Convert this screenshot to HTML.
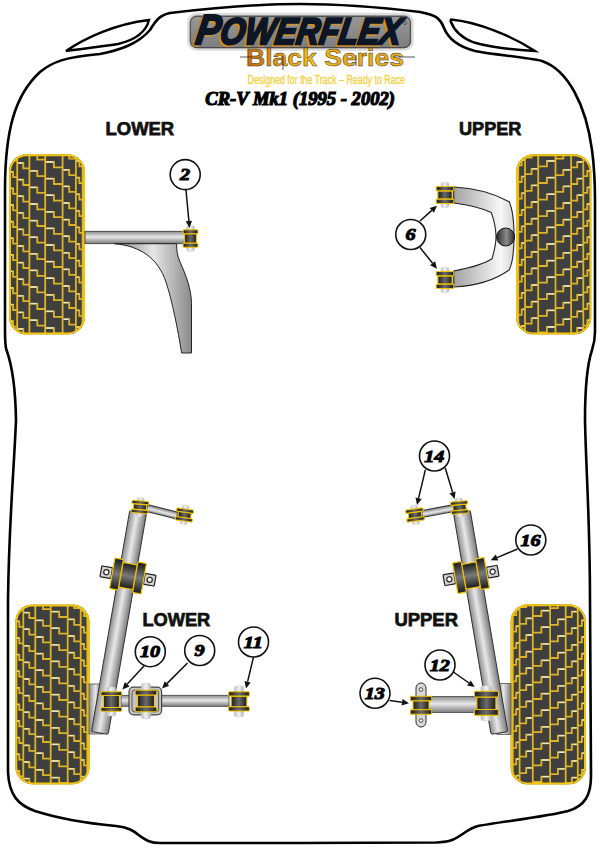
<!DOCTYPE html>
<html><head><meta charset="utf-8"><style>
html,body{margin:0;padding:0;background:#fff;width:600px;height:848px;overflow:hidden}
svg{display:block}
</style></head><body>
<svg width="600" height="848" viewBox="0 0 600 848">
<defs>
<linearGradient id="gTubeH" x1="0" y1="0" x2="0" y2="1">
<stop offset="0" stop-color="#8a8a8a"/><stop offset="0.45" stop-color="#e8e8e8"/><stop offset="1" stop-color="#7a7a7a"/>
</linearGradient>
<linearGradient id="gTubeV" x1="0" y1="0" x2="1" y2="0">
<stop offset="0" stop-color="#8a8a8a"/><stop offset="0.45" stop-color="#e8e8e8"/><stop offset="1" stop-color="#7a7a7a"/>
</linearGradient>
<linearGradient id="gArm" x1="0" y1="0" x2="1" y2="0">
<stop offset="0" stop-color="#7d7d7d"/><stop offset="0.5" stop-color="#e6e6e6"/><stop offset="1" stop-color="#8a8a8a"/>
</linearGradient>
<linearGradient id="gBush" x1="0" y1="0" x2="1" y2="0">
<stop offset="0" stop-color="#1c1c1c"/><stop offset="0.5" stop-color="#6a6a6a"/><stop offset="1" stop-color="#1c1c1c"/>
</linearGradient>
<linearGradient id="gBolt" x1="0" y1="0" x2="1" y2="0">
<stop offset="0" stop-color="#bdbdbd"/><stop offset="0.5" stop-color="#f4f4f4"/><stop offset="1" stop-color="#b0b0b0"/>
</linearGradient>
<linearGradient id="gBushV" x1="0" y1="0" x2="0" y2="1">
<stop offset="0" stop-color="#1a1a1a"/><stop offset="0.5" stop-color="#7a7a7a"/><stop offset="1" stop-color="#1a1a1a"/>
</linearGradient>
<linearGradient id="gU" x1="0" y1="0" x2="1" y2="0">
<stop offset="0" stop-color="#a2a2a2"/><stop offset="0.78" stop-color="#f7f7f7"/><stop offset="1" stop-color="#d4d4d4"/>
</linearGradient>
<linearGradient id="gBallH" x1="0" y1="0" x2="1" y2="0">
<stop offset="0" stop-color="#2a2a2a"/><stop offset="0.55" stop-color="#8a8a8a"/><stop offset="1" stop-color="#2a2a2a"/>
</linearGradient>
<radialGradient id="gBall" cx="0.5" cy="0.5" r="0.5">
<stop offset="0" stop-color="#777"/><stop offset="1" stop-color="#222"/>
</radialGradient>
</defs>
<rect width="600" height="848" fill="#fff"/>
<path d="M100,54 C120,50 138,44 150,30 C156,20 160,15 170,13 C230,6 270,4 300,4 C330,4 370,6 420,12 C436,15 440,18 444,28 C448,38 456,46 475,51 C495,55 525,57 542,61 C568,70 586,105 592,150 C594,165 595,180 595,200 L595,332 C595,340 594,344 592,350 C587,365 585,390 585,420 C586,470 590,520 590,600 L591,776 C591,795 585,806 568,811 C550,816 500,822 478,826 C470,828 466,832 458,837 C452,841 447,842 436,842.5 L300,843 L160,843 C150,843 146,840 140,836 C134,831 128,827 116,826 C95,824 60,819 35,811 C18,805 9,795 8,772 L8,600 C9,520 14,470 16,420 C15.5,390 12,365 6.5,350 C5,346 5,340 5,330 L5,190 C5,130 15,95 40,72 C52,62 65,57 100,54 Z" fill="none" stroke="#000" stroke-width="2.6"/>
<path d="M66,51 C85,38 115,24 149,20 C146,32 135,40 118,44 C100,47 80,49 66,51 Z" fill="none" stroke="#000" stroke-width="2.4"/>
<path d="M451,19.5 C478,22 512,36 535,51 C515,50 490,47 474,42.5 C462,38 454,30 451,22 C450.5,20.5 450.5,19.7 451,19.5 Z" fill="none" stroke="#000" stroke-width="2.4"/>
<clipPath id="clip1"><rect x="9" y="154.3" width="76" height="180.2" rx="17.5"/></clipPath>
<g clip-path="url(#clip1)">
<rect x="9" y="154.3" width="76" height="180.2" fill="#3f3f3f"/>
<g>
<path d="M9.0,122.0H13.1V127.4H17.2M9.0,138.6H13.1V144.0H17.2M9.0,155.2H13.1V160.6H17.2M9.0,171.8H13.1V177.2H17.2M9.0,188.4H13.1V193.8H17.2M9.0,205.0H13.1V210.4H17.2M9.0,221.6H13.1V227.0H17.2M9.0,238.2H13.1V243.6H17.2M9.0,254.8H13.1V260.2H17.2M9.0,271.4H13.1V276.8H17.2M9.0,288.0H13.1V293.4H17.2M9.0,304.6H13.1V310.0H17.2M9.0,321.2H13.1V326.6H17.2M9.0,337.8H13.1V343.2H17.2M17.2,154.3V334.5M17.2,129.8H23.3V135.2H29.4M17.2,146.4H23.3V151.8H29.4M17.2,163.0H23.3V168.4H29.4M17.2,179.6H23.3V185.0H29.4M17.2,196.2H23.3V201.6H29.4M17.2,212.8H23.3V218.2H29.4M17.2,229.4H23.3V234.8H29.4M17.2,246.0H23.3V251.4H29.4M17.2,262.6H23.3V268.0H29.4M17.2,279.2H23.3V284.6H29.4M17.2,295.8H23.3V301.2H29.4M17.2,312.4H23.3V317.8H29.4M17.2,329.0H23.3V334.4H29.4M17.2,345.6H23.3V351.0H29.4M29.4,154.3V334.5M29.4,137.6H37.3V143.0H45.2M29.4,154.2H37.3V159.6H45.2M29.4,170.8H37.3V176.2H45.2M29.4,187.4H37.3V192.8H45.2M29.4,204.0H37.3V209.4H45.2M29.4,220.6H37.3V226.0H45.2M29.4,237.2H37.3V242.6H45.2M29.4,253.8H37.3V259.2H45.2M29.4,270.4H37.3V275.8H45.2M29.4,287.0H37.3V292.4H45.2M29.4,303.6H37.3V309.0H45.2M29.4,320.2H37.3V325.6H45.2M29.4,336.8H37.3V342.2H45.2M45.2,154.3V334.5M45.2,128.8H53.9V134.2H62.6M45.2,145.4H53.9V150.8H62.6M45.2,162.0H53.9V167.4H62.6M45.2,178.6H53.9V184.0H62.6M45.2,195.2H53.9V200.6H62.6M45.2,211.8H53.9V217.2H62.6M45.2,228.4H53.9V233.8H62.6M45.2,245.0H53.9V250.4H62.6M45.2,261.6H53.9V267.0H62.6M45.2,278.2H53.9V283.6H62.6M45.2,294.8H53.9V300.2H62.6M45.2,311.4H53.9V316.8H62.6M45.2,328.0H53.9V333.4H62.6M45.2,344.6H53.9V350.0H62.6M62.6,154.3V334.5M62.6,136.6H69.2V142.0H75.9M62.6,153.2H69.2V158.6H75.9M62.6,169.8H69.2V175.2H75.9M62.6,186.4H69.2V191.8H75.9M62.6,203.0H69.2V208.4H75.9M62.6,219.6H69.2V225.0H75.9M62.6,236.2H69.2V241.6H75.9M62.6,252.8H69.2V258.2H75.9M62.6,269.4H69.2V274.8H75.9M62.6,286.0H69.2V291.4H75.9M62.6,302.6H69.2V308.0H75.9M62.6,319.2H69.2V324.6H75.9M62.6,335.8H69.2V341.2H75.9M75.9,154.3V334.5M75.9,127.8H79.3V133.2H82.6M75.9,144.4H79.3V149.8H82.6M75.9,161.0H79.3V166.4H82.6M75.9,177.6H79.3V183.0H82.6M75.9,194.2H79.3V199.6H82.6M75.9,210.8H79.3V216.2H82.6M75.9,227.4H79.3V232.8H82.6M75.9,244.0H79.3V249.4H82.6M75.9,260.6H79.3V266.0H82.6M75.9,277.2H79.3V282.6H82.6M75.9,293.8H79.3V299.2H82.6M75.9,310.4H79.3V315.8H82.6M75.9,327.0H79.3V332.4H82.6M75.9,343.6H79.3V349.0H82.6M82.6,154.3V334.5M82.6,135.6H83.8V141.0H85.0M82.6,152.2H83.8V157.6H85.0M82.6,168.8H83.8V174.2H85.0M82.6,185.4H83.8V190.8H85.0M82.6,202.0H83.8V207.4H85.0M82.6,218.6H83.8V224.0H85.0M82.6,235.2H83.8V240.6H85.0M82.6,251.8H83.8V257.2H85.0M82.6,268.4H83.8V273.8H85.0M82.6,285.0H83.8V290.4H85.0M82.6,301.6H83.8V307.0H85.0M82.6,318.2H83.8V323.6H85.0M82.6,334.8H83.8V340.2H85.0" stroke="#dcb424" stroke-width="1.8" fill="none"/>
<path d="M10.2,122.0H12.3M10.2,138.6H12.3M10.2,155.2H12.3M10.2,171.8H12.3M10.2,188.4H12.3M10.2,205.0H12.3M10.2,221.6H12.3M10.2,238.2H12.3M10.2,254.8H12.3M10.2,271.4H12.3M10.2,288.0H12.3M10.2,304.6H12.3M10.2,321.2H12.3M10.2,337.8H12.3M18.4,129.8H22.5M18.4,146.4H22.5M18.4,163.0H22.5M18.4,179.6H22.5M18.4,196.2H22.5M18.4,212.8H22.5M18.4,229.4H22.5M18.4,246.0H22.5M18.4,262.6H22.5M18.4,279.2H22.5M18.4,295.8H22.5M18.4,312.4H22.5M18.4,329.0H22.5M18.4,345.6H22.5M30.6,137.6H36.5M30.6,154.2H36.5M30.6,170.8H36.5M30.6,187.4H36.5M30.6,204.0H36.5M30.6,220.6H36.5M30.6,237.2H36.5M30.6,253.8H36.5M30.6,270.4H36.5M30.6,287.0H36.5M30.6,303.6H36.5M30.6,320.2H36.5M30.6,336.8H36.5M46.4,128.8H53.1M46.4,145.4H53.1M46.4,162.0H53.1M46.4,178.6H53.1M46.4,195.2H53.1M46.4,211.8H53.1M46.4,228.4H53.1M46.4,245.0H53.1M46.4,261.6H53.1M46.4,278.2H53.1M46.4,294.8H53.1M46.4,311.4H53.1M46.4,328.0H53.1M46.4,344.6H53.1M63.8,136.6H68.4M63.8,153.2H68.4M63.8,169.8H68.4M63.8,186.4H68.4M63.8,203.0H68.4M63.8,219.6H68.4M63.8,236.2H68.4M63.8,252.8H68.4M63.8,269.4H68.4M63.8,286.0H68.4M63.8,302.6H68.4M63.8,319.2H68.4M63.8,335.8H68.4M77.1,127.8H78.5M77.1,144.4H78.5M77.1,161.0H78.5M77.1,177.6H78.5M77.1,194.2H78.5M77.1,210.8H78.5M77.1,227.4H78.5M77.1,244.0H78.5M77.1,260.6H78.5M77.1,277.2H78.5M77.1,293.8H78.5M77.1,310.4H78.5M77.1,327.0H78.5M77.1,343.6H78.5" stroke="#e6e6de" stroke-width="1.35" fill="none"/>
</g>
</g>
<rect x="10" y="155.3" width="74" height="178.2" rx="16.5" fill="none" stroke="#f3c50a" stroke-width="2.0"/>
<clipPath id="clip2"><rect x="516" y="154.3" width="75.39999999999998" height="180.2" rx="17.5"/></clipPath>
<g clip-path="url(#clip2)">
<rect x="516" y="154.3" width="75.39999999999998" height="180.2" fill="#3f3f3f"/>
<g transform="translate(1107.4,0) scale(-1,1)">
<path d="M516.0,137.6H520.1V143.0H524.1M516.0,154.2H520.1V159.6H524.1M516.0,170.8H520.1V176.2H524.1M516.0,187.4H520.1V192.8H524.1M516.0,204.0H520.1V209.4H524.1M516.0,220.6H520.1V226.0H524.1M516.0,237.2H520.1V242.6H524.1M516.0,253.8H520.1V259.2H524.1M516.0,270.4H520.1V275.8H524.1M516.0,287.0H520.1V292.4H524.1M516.0,303.6H520.1V309.0H524.1M516.0,320.2H520.1V325.6H524.1M516.0,336.8H520.1V342.2H524.1M524.1,154.3V334.5M524.1,128.8H530.2V134.2H536.3M524.1,145.4H530.2V150.8H536.3M524.1,162.0H530.2V167.4H536.3M524.1,178.6H530.2V184.0H536.3M524.1,195.2H530.2V200.6H536.3M524.1,211.8H530.2V217.2H536.3M524.1,228.4H530.2V233.8H536.3M524.1,245.0H530.2V250.4H536.3M524.1,261.6H530.2V267.0H536.3M524.1,278.2H530.2V283.6H536.3M524.1,294.8H530.2V300.2H536.3M524.1,311.4H530.2V316.8H536.3M524.1,328.0H530.2V333.4H536.3M524.1,344.6H530.2V350.0H536.3M536.3,154.3V334.5M536.3,136.6H544.1V142.0H551.9M536.3,153.2H544.1V158.6H551.9M536.3,169.8H544.1V175.2H551.9M536.3,186.4H544.1V191.8H551.9M536.3,203.0H544.1V208.4H551.9M536.3,219.6H544.1V225.0H551.9M536.3,236.2H544.1V241.6H551.9M536.3,252.8H544.1V258.2H551.9M536.3,269.4H544.1V274.8H551.9M536.3,286.0H544.1V291.4H551.9M536.3,302.6H544.1V308.0H551.9M536.3,319.2H544.1V324.6H551.9M536.3,335.8H544.1V341.2H551.9M551.9,154.3V334.5M551.9,127.8H560.5V133.2H569.2M551.9,144.4H560.5V149.8H569.2M551.9,161.0H560.5V166.4H569.2M551.9,177.6H560.5V183.0H569.2M551.9,194.2H560.5V199.6H569.2M551.9,210.8H560.5V216.2H569.2M551.9,227.4H560.5V232.8H569.2M551.9,244.0H560.5V249.4H569.2M551.9,260.6H560.5V266.0H569.2M551.9,277.2H560.5V282.6H569.2M551.9,293.8H560.5V299.2H569.2M551.9,310.4H560.5V315.8H569.2M551.9,327.0H560.5V332.4H569.2M551.9,343.6H560.5V349.0H569.2M569.2,154.3V334.5M569.2,135.6H575.8V141.0H582.4M569.2,152.2H575.8V157.6H582.4M569.2,168.8H575.8V174.2H582.4M569.2,185.4H575.8V190.8H582.4M569.2,202.0H575.8V207.4H582.4M569.2,218.6H575.8V224.0H582.4M569.2,235.2H575.8V240.6H582.4M569.2,251.8H575.8V257.2H582.4M569.2,268.4H575.8V273.8H582.4M569.2,285.0H575.8V290.4H582.4M569.2,301.6H575.8V307.0H582.4M569.2,318.2H575.8V323.6H582.4M569.2,334.8H575.8V340.2H582.4M582.4,154.3V334.5M582.4,126.8H585.7V132.2H589.1M582.4,143.4H585.7V148.8H589.1M582.4,160.0H585.7V165.4H589.1M582.4,176.6H585.7V182.0H589.1M582.4,193.2H585.7V198.6H589.1M582.4,209.8H585.7V215.2H589.1M582.4,226.4H585.7V231.8H589.1M582.4,243.0H585.7V248.4H589.1M582.4,259.6H585.7V265.0H589.1M582.4,276.2H585.7V281.6H589.1M582.4,292.8H585.7V298.2H589.1M582.4,309.4H585.7V314.8H589.1M582.4,326.0H585.7V331.4H589.1M582.4,342.6H585.7V348.0H589.1M589.1,154.3V334.5M589.1,134.6H590.2V140.0H591.4M589.1,151.2H590.2V156.6H591.4M589.1,167.8H590.2V173.2H591.4M589.1,184.4H590.2V189.8H591.4M589.1,201.0H590.2V206.4H591.4M589.1,217.6H590.2V223.0H591.4M589.1,234.2H590.2V239.6H591.4M589.1,250.8H590.2V256.2H591.4M589.1,267.4H590.2V272.8H591.4M589.1,284.0H590.2V289.4H591.4M589.1,300.6H590.2V306.0H591.4M589.1,317.2H590.2V322.6H591.4M589.1,333.8H590.2V339.2H591.4M589.1,350.4H590.2V355.8H591.4" stroke="#dcb424" stroke-width="1.8" fill="none"/>
<path d="M517.2,137.6H519.3M517.2,154.2H519.3M517.2,170.8H519.3M517.2,187.4H519.3M517.2,204.0H519.3M517.2,220.6H519.3M517.2,237.2H519.3M517.2,253.8H519.3M517.2,270.4H519.3M517.2,287.0H519.3M517.2,303.6H519.3M517.2,320.2H519.3M517.2,336.8H519.3M525.3,128.8H529.4M525.3,145.4H529.4M525.3,162.0H529.4M525.3,178.6H529.4M525.3,195.2H529.4M525.3,211.8H529.4M525.3,228.4H529.4M525.3,245.0H529.4M525.3,261.6H529.4M525.3,278.2H529.4M525.3,294.8H529.4M525.3,311.4H529.4M525.3,328.0H529.4M525.3,344.6H529.4M537.5,136.6H543.3M537.5,153.2H543.3M537.5,169.8H543.3M537.5,186.4H543.3M537.5,203.0H543.3M537.5,219.6H543.3M537.5,236.2H543.3M537.5,252.8H543.3M537.5,269.4H543.3M537.5,286.0H543.3M537.5,302.6H543.3M537.5,319.2H543.3M537.5,335.8H543.3M553.1,127.8H559.7M553.1,144.4H559.7M553.1,161.0H559.7M553.1,177.6H559.7M553.1,194.2H559.7M553.1,210.8H559.7M553.1,227.4H559.7M553.1,244.0H559.7M553.1,260.6H559.7M553.1,277.2H559.7M553.1,293.8H559.7M553.1,310.4H559.7M553.1,327.0H559.7M553.1,343.6H559.7M570.4,135.6H575.0M570.4,152.2H575.0M570.4,168.8H575.0M570.4,185.4H575.0M570.4,202.0H575.0M570.4,218.6H575.0M570.4,235.2H575.0M570.4,251.8H575.0M570.4,268.4H575.0M570.4,285.0H575.0M570.4,301.6H575.0M570.4,318.2H575.0M570.4,334.8H575.0M583.6,126.8H584.9M583.6,143.4H584.9M583.6,160.0H584.9M583.6,176.6H584.9M583.6,193.2H584.9M583.6,209.8H584.9M583.6,226.4H584.9M583.6,243.0H584.9M583.6,259.6H584.9M583.6,276.2H584.9M583.6,292.8H584.9M583.6,309.4H584.9M583.6,326.0H584.9M583.6,342.6H584.9" stroke="#e6e6de" stroke-width="1.35" fill="none"/>
</g>
</g>
<rect x="517" y="155.3" width="73.39999999999998" height="178.2" rx="16.5" fill="none" stroke="#f3c50a" stroke-width="2.0"/>
<clipPath id="clip3"><rect x="15.3" y="604.4" width="74.3" height="180.0" rx="17.5"/></clipPath>
<g clip-path="url(#clip3)">
<rect x="15.3" y="604.4" width="74.3" height="180.0" fill="#3f3f3f"/>
<g>
<path d="M15.3,571.6H19.3V577.0H23.3M15.3,588.2H19.3V593.6H23.3M15.3,604.8H19.3V610.2H23.3M15.3,621.4H19.3V626.8H23.3M15.3,638.0H19.3V643.4H23.3M15.3,654.6H19.3V660.0H23.3M15.3,671.2H19.3V676.6H23.3M15.3,687.8H19.3V693.2H23.3M15.3,704.4H19.3V709.8H23.3M15.3,721.0H19.3V726.4H23.3M15.3,737.6H19.3V743.0H23.3M15.3,754.2H19.3V759.6H23.3M15.3,770.8H19.3V776.2H23.3M15.3,787.4H19.3V792.8H23.3M23.3,604.4V784.4M23.3,579.4H29.3V584.8H35.3M23.3,596.0H29.3V601.4H35.3M23.3,612.6H29.3V618.0H35.3M23.3,629.2H29.3V634.6H35.3M23.3,645.8H29.3V651.2H35.3M23.3,662.4H29.3V667.8H35.3M23.3,679.0H29.3V684.4H35.3M23.3,695.6H29.3V701.0H35.3M23.3,712.2H29.3V717.6H35.3M23.3,728.8H29.3V734.2H35.3M23.3,745.4H29.3V750.8H35.3M23.3,762.0H29.3V767.4H35.3M23.3,778.6H29.3V784.0H35.3M23.3,795.2H29.3V800.6H35.3M35.3,604.4V784.4M35.3,587.2H43.0V592.6H50.7M35.3,603.8H43.0V609.2H50.7M35.3,620.4H43.0V625.8H50.7M35.3,637.0H43.0V642.4H50.7M35.3,653.6H43.0V659.0H50.7M35.3,670.2H43.0V675.6H50.7M35.3,686.8H43.0V692.2H50.7M35.3,703.4H43.0V708.8H50.7M35.3,720.0H43.0V725.4H50.7M35.3,736.6H43.0V742.0H50.7M35.3,753.2H43.0V758.6H50.7M35.3,769.8H43.0V775.2H50.7M35.3,786.4H43.0V791.8H50.7M50.7,604.4V784.4M50.7,578.4H59.2V583.8H67.7M50.7,595.0H59.2V600.4H67.7M50.7,611.6H59.2V617.0H67.7M50.7,628.2H59.2V633.6H67.7M50.7,644.8H59.2V650.2H67.7M50.7,661.4H59.2V666.8H67.7M50.7,678.0H59.2V683.4H67.7M50.7,694.6H59.2V700.0H67.7M50.7,711.2H59.2V716.6H67.7M50.7,727.8H59.2V733.2H67.7M50.7,744.4H59.2V749.8H67.7M50.7,761.0H59.2V766.4H67.7M50.7,777.6H59.2V783.0H67.7M50.7,794.2H59.2V799.6H67.7M67.7,604.4V784.4M67.7,586.2H74.2V591.6H80.7M67.7,602.8H74.2V608.2H80.7M67.7,619.4H74.2V624.8H80.7M67.7,636.0H74.2V641.4H80.7M67.7,652.6H74.2V658.0H80.7M67.7,669.2H74.2V674.6H80.7M67.7,685.8H74.2V691.2H80.7M67.7,702.4H74.2V707.8H80.7M67.7,719.0H74.2V724.4H80.7M67.7,735.6H74.2V741.0H80.7M67.7,752.2H74.2V757.6H80.7M67.7,768.8H74.2V774.2H80.7M67.7,785.4H74.2V790.8H80.7M80.7,604.4V784.4M80.7,577.4H84.0V582.8H87.3M80.7,594.0H84.0V599.4H87.3M80.7,610.6H84.0V616.0H87.3M80.7,627.2H84.0V632.6H87.3M80.7,643.8H84.0V649.2H87.3M80.7,660.4H84.0V665.8H87.3M80.7,677.0H84.0V682.4H87.3M80.7,693.6H84.0V699.0H87.3M80.7,710.2H84.0V715.6H87.3M80.7,726.8H84.0V732.2H87.3M80.7,743.4H84.0V748.8H87.3M80.7,760.0H84.0V765.4H87.3M80.7,776.6H84.0V782.0H87.3M80.7,793.2H84.0V798.6H87.3M87.3,604.4V784.4M87.3,585.2H88.4V590.6H89.6M87.3,601.8H88.4V607.2H89.6M87.3,618.4H88.4V623.8H89.6M87.3,635.0H88.4V640.4H89.6M87.3,651.6H88.4V657.0H89.6M87.3,668.2H88.4V673.6H89.6M87.3,684.8H88.4V690.2H89.6M87.3,701.4H88.4V706.8H89.6M87.3,718.0H88.4V723.4H89.6M87.3,734.6H88.4V740.0H89.6M87.3,751.2H88.4V756.6H89.6M87.3,767.8H88.4V773.2H89.6M87.3,784.4H88.4V789.8H89.6" stroke="#dcb424" stroke-width="1.8" fill="none"/>
<path d="M16.5,571.6H18.5M16.5,588.2H18.5M16.5,604.8H18.5M16.5,621.4H18.5M16.5,638.0H18.5M16.5,654.6H18.5M16.5,671.2H18.5M16.5,687.8H18.5M16.5,704.4H18.5M16.5,721.0H18.5M16.5,737.6H18.5M16.5,754.2H18.5M16.5,770.8H18.5M16.5,787.4H18.5M24.5,579.4H28.5M24.5,596.0H28.5M24.5,612.6H28.5M24.5,629.2H28.5M24.5,645.8H28.5M24.5,662.4H28.5M24.5,679.0H28.5M24.5,695.6H28.5M24.5,712.2H28.5M24.5,728.8H28.5M24.5,745.4H28.5M24.5,762.0H28.5M24.5,778.6H28.5M24.5,795.2H28.5M36.5,587.2H42.2M36.5,603.8H42.2M36.5,620.4H42.2M36.5,637.0H42.2M36.5,653.6H42.2M36.5,670.2H42.2M36.5,686.8H42.2M36.5,703.4H42.2M36.5,720.0H42.2M36.5,736.6H42.2M36.5,753.2H42.2M36.5,769.8H42.2M36.5,786.4H42.2M51.9,578.4H58.4M51.9,595.0H58.4M51.9,611.6H58.4M51.9,628.2H58.4M51.9,644.8H58.4M51.9,661.4H58.4M51.9,678.0H58.4M51.9,694.6H58.4M51.9,711.2H58.4M51.9,727.8H58.4M51.9,744.4H58.4M51.9,761.0H58.4M51.9,777.6H58.4M51.9,794.2H58.4M68.9,586.2H73.4M68.9,602.8H73.4M68.9,619.4H73.4M68.9,636.0H73.4M68.9,652.6H73.4M68.9,669.2H73.4M68.9,685.8H73.4M68.9,702.4H73.4M68.9,719.0H73.4M68.9,735.6H73.4M68.9,752.2H73.4M68.9,768.8H73.4M68.9,785.4H73.4M81.9,577.4H83.2M81.9,594.0H83.2M81.9,610.6H83.2M81.9,627.2H83.2M81.9,643.8H83.2M81.9,660.4H83.2M81.9,677.0H83.2M81.9,693.6H83.2M81.9,710.2H83.2M81.9,726.8H83.2M81.9,743.4H83.2M81.9,760.0H83.2M81.9,776.6H83.2M81.9,793.2H83.2" stroke="#e6e6de" stroke-width="1.35" fill="none"/>
</g>
</g>
<rect x="16.3" y="605.4" width="72.3" height="178.0" rx="16.5" fill="none" stroke="#f3c50a" stroke-width="2.0"/>
<clipPath id="clip4"><rect x="510.5" y="604.3" width="75.5" height="180.20000000000005" rx="17.5"/></clipPath>
<g clip-path="url(#clip4)">
<rect x="510.5" y="604.3" width="75.5" height="180.20000000000005" fill="#3f3f3f"/>
<g transform="translate(1096.5,0) scale(-1,1)">
<path d="M510.5,587.2H514.6V592.6H518.7M510.5,603.8H514.6V609.2H518.7M510.5,620.4H514.6V625.8H518.7M510.5,637.0H514.6V642.4H518.7M510.5,653.6H514.6V659.0H518.7M510.5,670.2H514.6V675.6H518.7M510.5,686.8H514.6V692.2H518.7M510.5,703.4H514.6V708.8H518.7M510.5,720.0H514.6V725.4H518.7M510.5,736.6H514.6V742.0H518.7M510.5,753.2H514.6V758.6H518.7M510.5,769.8H514.6V775.2H518.7M510.5,786.4H514.6V791.8H518.7M518.7,604.3V784.5M518.7,578.4H524.7V583.8H530.8M518.7,595.0H524.7V600.4H530.8M518.7,611.6H524.7V617.0H530.8M518.7,628.2H524.7V633.6H530.8M518.7,644.8H524.7V650.2H530.8M518.7,661.4H524.7V666.8H530.8M518.7,678.0H524.7V683.4H530.8M518.7,694.6H524.7V700.0H530.8M518.7,711.2H524.7V716.6H530.8M518.7,727.8H524.7V733.2H530.8M518.7,744.4H524.7V749.8H530.8M518.7,761.0H524.7V766.4H530.8M518.7,777.6H524.7V783.0H530.8M518.7,794.2H524.7V799.6H530.8M530.8,604.3V784.5M530.8,586.2H538.6V591.6H546.4M530.8,602.8H538.6V608.2H546.4M530.8,619.4H538.6V624.8H546.4M530.8,636.0H538.6V641.4H546.4M530.8,652.6H538.6V658.0H546.4M530.8,669.2H538.6V674.6H546.4M530.8,685.8H538.6V691.2H546.4M530.8,702.4H538.6V707.8H546.4M530.8,719.0H538.6V724.4H546.4M530.8,735.6H538.6V741.0H546.4M530.8,752.2H538.6V757.6H546.4M530.8,768.8H538.6V774.2H546.4M530.8,785.4H538.6V790.8H546.4M546.4,604.3V784.5M546.4,577.4H555.1V582.8H563.7M546.4,594.0H555.1V599.4H563.7M546.4,610.6H555.1V616.0H563.7M546.4,627.2H555.1V632.6H563.7M546.4,643.8H555.1V649.2H563.7M546.4,660.4H555.1V665.8H563.7M546.4,677.0H555.1V682.4H563.7M546.4,693.6H555.1V699.0H563.7M546.4,710.2H555.1V715.6H563.7M546.4,726.8H555.1V732.2H563.7M546.4,743.4H555.1V748.8H563.7M546.4,760.0H555.1V765.4H563.7M546.4,776.6H555.1V782.0H563.7M546.4,793.2H555.1V798.6H563.7M563.7,604.3V784.5M563.7,585.2H570.3V590.6H576.9M563.7,601.8H570.3V607.2H576.9M563.7,618.4H570.3V623.8H576.9M563.7,635.0H570.3V640.4H576.9M563.7,651.6H570.3V657.0H576.9M563.7,668.2H570.3V673.6H576.9M563.7,684.8H570.3V690.2H576.9M563.7,701.4H570.3V706.8H576.9M563.7,718.0H570.3V723.4H576.9M563.7,734.6H570.3V740.0H576.9M563.7,751.2H570.3V756.6H576.9M563.7,767.8H570.3V773.2H576.9M563.7,784.4H570.3V789.8H576.9M563.7,801.0H570.3V806.4H576.9M576.9,604.3V784.5M576.9,576.4H580.3V581.8H583.7M576.9,593.0H580.3V598.4H583.7M576.9,609.6H580.3V615.0H583.7M576.9,626.2H580.3V631.6H583.7M576.9,642.8H580.3V648.2H583.7M576.9,659.4H580.3V664.8H583.7M576.9,676.0H580.3V681.4H583.7M576.9,692.6H580.3V698.0H583.7M576.9,709.2H580.3V714.6H583.7M576.9,725.8H580.3V731.2H583.7M576.9,742.4H580.3V747.8H583.7M576.9,759.0H580.3V764.4H583.7M576.9,775.6H580.3V781.0H583.7M576.9,792.2H580.3V797.6H583.7M583.7,604.3V784.5M583.7,584.2H584.8V589.6H586.0M583.7,600.8H584.8V606.2H586.0M583.7,617.4H584.8V622.8H586.0M583.7,634.0H584.8V639.4H586.0M583.7,650.6H584.8V656.0H586.0M583.7,667.2H584.8V672.6H586.0M583.7,683.8H584.8V689.2H586.0M583.7,700.4H584.8V705.8H586.0M583.7,717.0H584.8V722.4H586.0M583.7,733.6H584.8V739.0H586.0M583.7,750.2H584.8V755.6H586.0M583.7,766.8H584.8V772.2H586.0M583.7,783.4H584.8V788.8H586.0M583.7,800.0H584.8V805.4H586.0" stroke="#dcb424" stroke-width="1.8" fill="none"/>
<path d="M511.7,587.2H513.8M511.7,603.8H513.8M511.7,620.4H513.8M511.7,637.0H513.8M511.7,653.6H513.8M511.7,670.2H513.8M511.7,686.8H513.8M511.7,703.4H513.8M511.7,720.0H513.8M511.7,736.6H513.8M511.7,753.2H513.8M511.7,769.8H513.8M511.7,786.4H513.8M519.9,578.4H523.9M519.9,595.0H523.9M519.9,611.6H523.9M519.9,628.2H523.9M519.9,644.8H523.9M519.9,661.4H523.9M519.9,678.0H523.9M519.9,694.6H523.9M519.9,711.2H523.9M519.9,727.8H523.9M519.9,744.4H523.9M519.9,761.0H523.9M519.9,777.6H523.9M519.9,794.2H523.9M532.0,586.2H537.8M532.0,602.8H537.8M532.0,619.4H537.8M532.0,636.0H537.8M532.0,652.6H537.8M532.0,669.2H537.8M532.0,685.8H537.8M532.0,702.4H537.8M532.0,719.0H537.8M532.0,735.6H537.8M532.0,752.2H537.8M532.0,768.8H537.8M532.0,785.4H537.8M547.6,577.4H554.3M547.6,594.0H554.3M547.6,610.6H554.3M547.6,627.2H554.3M547.6,643.8H554.3M547.6,660.4H554.3M547.6,677.0H554.3M547.6,693.6H554.3M547.6,710.2H554.3M547.6,726.8H554.3M547.6,743.4H554.3M547.6,760.0H554.3M547.6,776.6H554.3M547.6,793.2H554.3M564.9,585.2H569.5M564.9,601.8H569.5M564.9,618.4H569.5M564.9,635.0H569.5M564.9,651.6H569.5M564.9,668.2H569.5M564.9,684.8H569.5M564.9,701.4H569.5M564.9,718.0H569.5M564.9,734.6H569.5M564.9,751.2H569.5M564.9,767.8H569.5M564.9,784.4H569.5M564.9,801.0H569.5M578.1,576.4H579.5M578.1,593.0H579.5M578.1,609.6H579.5M578.1,626.2H579.5M578.1,642.8H579.5M578.1,659.4H579.5M578.1,676.0H579.5M578.1,692.6H579.5M578.1,709.2H579.5M578.1,725.8H579.5M578.1,742.4H579.5M578.1,759.0H579.5M578.1,775.6H579.5M578.1,792.2H579.5" stroke="#e6e6de" stroke-width="1.35" fill="none"/>
</g>
</g>
<rect x="511.5" y="605.3" width="73.5" height="178.20000000000005" rx="16.5" fill="none" stroke="#f3c50a" stroke-width="2.0"/>
<rect x="85" y="231.3" width="100" height="12.4" fill="url(#gTubeH)" stroke="#333" stroke-width="0.8"/>
<path d="M114.7,243.7 C140,246 158,258 166,282 C172,300 178,330 181.6,353 L191.5,353 L191.5,303.6 C191.5,290 186,275 180,262 C177,255 176.6,250 176.6,243.7 Z" fill="url(#gArm)" stroke="#222" stroke-width="1"/>
<g transform="translate(190.5,238.5) rotate(0)">
<rect x="-4.0" y="-12.75" width="8" height="25.5" rx="2" fill="url(#gBolt)" stroke="#c8c8c8" stroke-width="0.5"/>
<rect x="-6.0" y="-4.75" width="12" height="9.5" fill="url(#gBush)" stroke="#f2c200" stroke-width="1.1"/>
<rect x="-7.5" y="-8.75" width="15" height="4" rx="1.2" fill="url(#gBush)" stroke="#f2c200" stroke-width="1.1"/>
<rect x="-7.5" y="4.75" width="15" height="4" rx="1.2" fill="url(#gBush)" stroke="#f2c200" stroke-width="1.1"/>
</g>
<circle cx="185.2" cy="174.6" r="15" fill="#fff" stroke="#111" stroke-width="1.6"/>
<text transform="translate(185.0,180.2) scale(1.2,1)" text-anchor="middle" font-family="Liberation Serif" font-weight="bold" font-style="italic" font-size="16.8" fill="#000" stroke="#000" stroke-width="1.0">2</text>
<line x1="186" y1="190" x2="188.9" y2="221.0" stroke="#111" stroke-width="1.5"/>
<path d="M189.5,228L185.7,221.3L192.0,220.7Z" fill="#111"/>
<path d="M453.75,187 C475,188 495,194 509.2,201.7 C513,210 514,222 514,237 C514,252 513,262 509.2,270 C495,280 475,286 453.75,287 L453.75,271 C470,268 484,264 492,258.8 C494,252 496,243 496,237 C496,231 494,220 491.3,212.6 C484,209 470,205 453.75,203 Z" fill="url(#gU)" stroke="#222" stroke-width="1.1"/>
<circle cx="505.6" cy="237" r="9" fill="url(#gBallH)" stroke="#111" stroke-width="1"/>
<g transform="translate(445,195) rotate(0)">
<rect x="-4.0" y="-12.5" width="8" height="25" rx="2" fill="url(#gBolt)" stroke="#c8c8c8" stroke-width="0.5"/>
<rect x="-7.15" y="-4.15" width="14.3" height="8.3" fill="url(#gBush)" stroke="#f2c200" stroke-width="1.1"/>
<rect x="-8.85" y="-8.45" width="17.7" height="4.3" rx="1.2" fill="url(#gBush)" stroke="#f2c200" stroke-width="1.1"/>
<rect x="-8.85" y="4.1499999999999995" width="17.7" height="4.3" rx="1.2" fill="url(#gBush)" stroke="#f2c200" stroke-width="1.1"/>
</g>
<g transform="translate(445,280) rotate(0)">
<rect x="-4.0" y="-12.5" width="8" height="25" rx="2" fill="url(#gBolt)" stroke="#c8c8c8" stroke-width="0.5"/>
<rect x="-7.15" y="-4.15" width="14.3" height="8.3" fill="url(#gBush)" stroke="#f2c200" stroke-width="1.1"/>
<rect x="-8.85" y="-8.45" width="17.7" height="4.3" rx="1.2" fill="url(#gBush)" stroke="#f2c200" stroke-width="1.1"/>
<rect x="-8.85" y="4.1499999999999995" width="17.7" height="4.3" rx="1.2" fill="url(#gBush)" stroke="#f2c200" stroke-width="1.1"/>
</g>
<circle cx="410.75" cy="234.5" r="15" fill="#fff" stroke="#111" stroke-width="1.6"/>
<text transform="translate(410.6,240.1) scale(1.2,1)" text-anchor="middle" font-family="Liberation Serif" font-weight="bold" font-style="italic" font-size="16.8" fill="#000" stroke="#000" stroke-width="1.0">6</text>
<line x1="420" y1="221" x2="431.8" y2="210.4" stroke="#111" stroke-width="1.5"/>
<path d="M437,205.75L433.9,212.8L429.7,208.0Z" fill="#111"/>
<line x1="420" y1="247.5" x2="432.6" y2="263.3" stroke="#111" stroke-width="1.5"/>
<path d="M437,268.75L430.1,265.3L435.1,261.3Z" fill="#111"/>
<text x="105.6" y="134.7" font-family="Liberation Sans" font-weight="bold" font-size="19.2" fill="#111" stroke="#111" stroke-width="0.75" textLength="68.6" lengthAdjust="spacingAndGlyphs">LOWER</text>
<text x="459" y="134.7" font-family="Liberation Sans" font-weight="bold" font-size="19.2" fill="#111" stroke="#111" stroke-width="0.75" textLength="62.4" lengthAdjust="spacingAndGlyphs">UPPER</text>
<text x="142.4" y="626.1" font-family="Liberation Sans" font-weight="bold" font-size="19.2" fill="#111" stroke="#111" stroke-width="0.75" textLength="67.9" lengthAdjust="spacingAndGlyphs">LOWER</text>
<text x="394.4" y="626.1" font-family="Liberation Sans" font-weight="bold" font-size="19.2" fill="#111" stroke="#111" stroke-width="0.75" textLength="63.6" lengthAdjust="spacingAndGlyphs">UPPER</text>
<rect x="89" y="684" width="14" height="50" fill="url(#gTubeV)" stroke="#555" stroke-width="0.8"/>
<g transform="translate(118.95,622.50) rotate(9.83)"><rect x="-8.5" y="-112.15" width="17" height="224.29" rx="2" fill="url(#gTubeV)" stroke="#333" stroke-width="1.0"/></g>
<g transform="translate(162.00,511.75) rotate(-75.96)"><rect x="-3.4" y="-15.46" width="6.8" height="30.92" rx="0" fill="url(#gTubeV)" stroke="#333" stroke-width="1"/></g>
<g transform="translate(140,507) rotate(5)">
<rect x="-3.5" y="-9.5" width="7" height="19" rx="2" fill="url(#gBolt)" stroke="#c8c8c8" stroke-width="0.5"/>
<rect x="-6.5" y="-2.8" width="13" height="5.6" fill="url(#gBush)" stroke="#f2c200" stroke-width="1.1"/>
<rect x="-8.45" y="-6.1" width="16.9" height="3.3" rx="1.2" fill="url(#gBush)" stroke="#f2c200" stroke-width="1.1"/>
<rect x="-8.45" y="2.8" width="16.9" height="3.3" rx="1.2" fill="url(#gBush)" stroke="#f2c200" stroke-width="1.1"/>
</g>
<g transform="translate(184.5,515) rotate(8)">
<rect x="-3.5" y="-9.5" width="7" height="19" rx="2" fill="url(#gBolt)" stroke="#c8c8c8" stroke-width="0.5"/>
<rect x="-6.5" y="-2.8" width="13" height="5.6" fill="url(#gBush)" stroke="#f2c200" stroke-width="1.1"/>
<rect x="-8.5" y="-6.1" width="17" height="3.3" rx="1.2" fill="url(#gBush)" stroke="#f2c200" stroke-width="1.1"/>
<rect x="-8.5" y="2.8" width="17" height="3.3" rx="1.2" fill="url(#gBush)" stroke="#f2c200" stroke-width="1.1"/>
</g>
<g transform="translate(128,576) rotate(10)">
<rect x="-27.5" y="-5.5" width="11" height="11" rx="1" fill="#d0d0d0" stroke="#222" stroke-width="1.2"/>
<circle cx="-22" cy="0" r="2.6" fill="#fff" stroke="#222" stroke-width="1.2"/>
<rect x="16.5" y="-5.5" width="11" height="11" rx="1" fill="#d0d0d0" stroke="#222" stroke-width="1.2"/>
<circle cx="22" cy="0" r="2.6" fill="#fff" stroke="#222" stroke-width="1.2"/>
<rect x="-7.3" y="-12.5" width="14.6" height="25" fill="url(#gBushV)" stroke="#f2c200" stroke-width="1.2"/>
<rect x="-16" y="-15.5" width="8.7" height="31" rx="1" fill="url(#gBushV)" stroke="#f2c200" stroke-width="1.2"/>
<rect x="7.3" y="-15.5" width="8.7" height="31" rx="1" fill="url(#gBushV)" stroke="#f2c200" stroke-width="1.2"/>
</g>
<rect x="121" y="695.3" width="108" height="11" fill="url(#gTubeH)" stroke="#444" stroke-width="0.8"/>
<rect x="129" y="687.2" width="32.6" height="27.6" rx="4.5" fill="#c4c4c4" stroke="#444" stroke-width="1.2"/>
<rect x="132" y="690.2" width="26.6" height="21.6" rx="2.5" fill="none" stroke="#555" stroke-width="1"/>
<g transform="translate(111.4,701.5) rotate(0)">
<rect x="-4.5" y="-14.5" width="9" height="29" rx="2" fill="url(#gBolt)" stroke="#c8c8c8" stroke-width="0.5"/>
<rect x="-8.0" y="-6.0" width="16" height="12" fill="url(#gBush)" stroke="#f2c200" stroke-width="1.1"/>
<rect x="-10.5" y="-9.8" width="21" height="3.8" rx="1.2" fill="url(#gBush)" stroke="#f2c200" stroke-width="1.1"/>
<rect x="-10.5" y="6.000000000000001" width="21" height="3.8" rx="1.2" fill="url(#gBush)" stroke="#f2c200" stroke-width="1.1"/>
</g>
<g transform="translate(146,701) rotate(0)">
<rect x="-4.65" y="-17.85" width="9.3" height="35.7" rx="2" fill="url(#gBolt)" stroke="#c8c8c8" stroke-width="0.5"/>
<rect x="-8.5" y="-6.0" width="17" height="12" fill="url(#gBush)" stroke="#f2c200" stroke-width="1.1"/>
<rect x="-10.85" y="-10.7" width="21.7" height="4.7" rx="1.2" fill="url(#gBush)" stroke="#f2c200" stroke-width="1.1"/>
<rect x="-10.85" y="5.999999999999999" width="21.7" height="4.7" rx="1.2" fill="url(#gBush)" stroke="#f2c200" stroke-width="1.1"/>
</g>
<g transform="translate(239,701.4) rotate(0)">
<rect x="-4.7" y="-15.4" width="9.4" height="30.8" rx="2" fill="url(#gBolt)" stroke="#c8c8c8" stroke-width="0.5"/>
<rect x="-7.85" y="-5.3" width="15.7" height="10.6" fill="url(#gBush)" stroke="#f2c200" stroke-width="1.1"/>
<rect x="-10.5" y="-9.6" width="21" height="4.3" rx="1.2" fill="url(#gBush)" stroke="#f2c200" stroke-width="1.1"/>
<rect x="-10.5" y="5.3" width="21" height="4.3" rx="1.2" fill="url(#gBush)" stroke="#f2c200" stroke-width="1.1"/>
</g>
<circle cx="150.3" cy="651.7" r="15" fill="#fff" stroke="#111" stroke-width="1.6"/>
<text transform="translate(150.1,657.3) scale(1.2,1)" text-anchor="middle" font-family="Liberation Serif" font-weight="bold" font-style="italic" font-size="16.8" fill="#000" stroke="#000" stroke-width="1.0">10</text>
<circle cx="199.7" cy="650.5" r="15" fill="#fff" stroke="#111" stroke-width="1.6"/>
<text transform="translate(199.5,656.1) scale(1.2,1)" text-anchor="middle" font-family="Liberation Serif" font-weight="bold" font-style="italic" font-size="16.8" fill="#000" stroke="#000" stroke-width="1.0">9</text>
<circle cx="253.5" cy="642" r="15" fill="#fff" stroke="#111" stroke-width="1.6"/>
<text transform="translate(253.3,647.6) scale(1.2,1)" text-anchor="middle" font-family="Liberation Serif" font-weight="bold" font-style="italic" font-size="16.8" fill="#000" stroke="#000" stroke-width="1.0">11</text>
<line x1="144" y1="666" x2="127.1" y2="684.3" stroke="#111" stroke-width="1.5"/>
<path d="M122.4,689.4L124.8,682.1L129.5,686.4Z" fill="#111"/>
<line x1="187.5" y1="663" x2="166.9" y2="683.6" stroke="#111" stroke-width="1.5"/>
<path d="M162,688.5L164.7,681.3L169.2,685.8Z" fill="#111"/>
<line x1="253.5" y1="657" x2="247.6" y2="681.7" stroke="#111" stroke-width="1.5"/>
<path d="M246,688.5L244.5,680.9L250.7,682.4Z" fill="#111"/>
<rect x="497" y="683.4" width="14" height="51" fill="url(#gTubeV)" stroke="#555" stroke-width="0.8"/>
<g transform="translate(480.65,622.50) rotate(-9.63)"><rect x="-8.5" y="-112.08" width="17" height="224.16" rx="2" fill="url(#gTubeV)" stroke="#333" stroke-width="1.0"/></g>
<g transform="translate(438.00,511.00) rotate(-100.62)"><rect x="-3.4" y="-16.28" width="6.8" height="32.56" rx="0" fill="url(#gTubeV)" stroke="#333" stroke-width="1"/></g>
<g transform="translate(415,515) rotate(-8)">
<rect x="-3.5" y="-9.5" width="7" height="19" rx="2" fill="url(#gBolt)" stroke="#c8c8c8" stroke-width="0.5"/>
<rect x="-6.5" y="-2.8" width="13" height="5.6" fill="url(#gBush)" stroke="#f2c200" stroke-width="1.1"/>
<rect x="-8.8" y="-6.1" width="17.6" height="3.3" rx="1.2" fill="url(#gBush)" stroke="#f2c200" stroke-width="1.1"/>
<rect x="-8.8" y="2.8" width="17.6" height="3.3" rx="1.2" fill="url(#gBush)" stroke="#f2c200" stroke-width="1.1"/>
</g>
<g transform="translate(459.5,507.5) rotate(-5)">
<rect x="-3.5" y="-9.5" width="7" height="19" rx="2" fill="url(#gBolt)" stroke="#c8c8c8" stroke-width="0.5"/>
<rect x="-6.5" y="-2.8" width="13" height="5.6" fill="url(#gBush)" stroke="#f2c200" stroke-width="1.1"/>
<rect x="-8.5" y="-6.1" width="17" height="3.3" rx="1.2" fill="url(#gBush)" stroke="#f2c200" stroke-width="1.1"/>
<rect x="-8.5" y="2.8" width="17" height="3.3" rx="1.2" fill="url(#gBush)" stroke="#f2c200" stroke-width="1.1"/>
</g>
<g transform="translate(471,575.5) rotate(-10)">
<rect x="-27.5" y="-5.5" width="11" height="11" rx="1" fill="#d0d0d0" stroke="#222" stroke-width="1.2"/>
<circle cx="-22" cy="0" r="2.6" fill="#fff" stroke="#222" stroke-width="1.2"/>
<rect x="16.5" y="-5.5" width="11" height="11" rx="1" fill="#d0d0d0" stroke="#222" stroke-width="1.2"/>
<circle cx="22" cy="0" r="2.6" fill="#fff" stroke="#222" stroke-width="1.2"/>
<rect x="-7.3" y="-12.5" width="14.6" height="25" fill="url(#gBushV)" stroke="#f2c200" stroke-width="1.2"/>
<rect x="-16" y="-15.5" width="8.7" height="31" rx="1" fill="url(#gBushV)" stroke="#f2c200" stroke-width="1.2"/>
<rect x="7.3" y="-15.5" width="8.7" height="31" rx="1" fill="url(#gBushV)" stroke="#f2c200" stroke-width="1.2"/>
</g>
<rect x="428" y="696.5" width="50" height="16" fill="url(#gTubeH)" stroke="#444" stroke-width="0.8"/>
<rect x="416" y="683" width="10" height="44" rx="5" fill="#d8d8d8" stroke="#333" stroke-width="1"/>
<circle cx="421" cy="689.5" r="1.8" fill="#fff" stroke="#333" stroke-width="0.9"/>
<circle cx="421" cy="720.5" r="1.8" fill="#fff" stroke="#333" stroke-width="0.9"/>
<g transform="translate(421,705.3) rotate(0)">
<rect x="-4.0" y="-9.5" width="8" height="19" rx="2" fill="url(#gBolt)" stroke="#c8c8c8" stroke-width="0.5"/>
<rect x="-8.0" y="-4.5" width="16" height="9" fill="url(#gBush)" stroke="#f2c200" stroke-width="1.1"/>
<rect x="-10.75" y="-9.0" width="21.5" height="4.5" rx="1.2" fill="url(#gBush)" stroke="#f2c200" stroke-width="1.1"/>
<rect x="-10.75" y="4.5" width="21.5" height="4.5" rx="1.2" fill="url(#gBush)" stroke="#f2c200" stroke-width="1.1"/>
</g>
<g transform="translate(486.4,703.3) rotate(0)">
<rect x="-5.5" y="-17.5" width="11" height="35" rx="2" fill="url(#gBolt)" stroke="#c8c8c8" stroke-width="0.5"/>
<rect x="-9.5" y="-6.25" width="19" height="12.5" fill="url(#gBush)" stroke="#f2c200" stroke-width="1.1"/>
<rect x="-12.0" y="-12.05" width="24" height="5.8" rx="1.2" fill="url(#gBush)" stroke="#f2c200" stroke-width="1.1"/>
<rect x="-12.0" y="6.250000000000001" width="24" height="5.8" rx="1.2" fill="url(#gBush)" stroke="#f2c200" stroke-width="1.1"/>
</g>
<circle cx="434.5" cy="456" r="15" fill="#fff" stroke="#111" stroke-width="1.6"/>
<text transform="translate(434.3,461.6) scale(1.2,1)" text-anchor="middle" font-family="Liberation Serif" font-weight="bold" font-style="italic" font-size="16.8" fill="#000" stroke="#000" stroke-width="1.0">14</text>
<circle cx="530.8" cy="540" r="15" fill="#fff" stroke="#111" stroke-width="1.6"/>
<text transform="translate(530.6,545.6) scale(1.2,1)" text-anchor="middle" font-family="Liberation Serif" font-weight="bold" font-style="italic" font-size="16.8" fill="#000" stroke="#000" stroke-width="1.0">16</text>
<circle cx="440" cy="665" r="15" fill="#fff" stroke="#111" stroke-width="1.6"/>
<text transform="translate(439.8,670.6) scale(1.2,1)" text-anchor="middle" font-family="Liberation Serif" font-weight="bold" font-style="italic" font-size="16.8" fill="#000" stroke="#000" stroke-width="1.0">12</text>
<circle cx="375" cy="693.3" r="15" fill="#fff" stroke="#111" stroke-width="1.6"/>
<text transform="translate(374.8,698.9) scale(1.2,1)" text-anchor="middle" font-family="Liberation Serif" font-weight="bold" font-style="italic" font-size="16.8" fill="#000" stroke="#000" stroke-width="1.0">13</text>
<line x1="425.4" y1="469.7" x2="418.6" y2="498.2" stroke="#111" stroke-width="1.5"/>
<path d="M417,505L415.5,497.4L421.7,498.9Z" fill="#111"/>
<line x1="445.25" y1="468" x2="452.6" y2="492.3" stroke="#111" stroke-width="1.5"/>
<path d="M454.6,499L449.5,493.2L455.6,491.4Z" fill="#111"/>
<line x1="517.5" y1="549" x2="497.1" y2="557.6" stroke="#111" stroke-width="1.5"/>
<path d="M490.6,560.3L495.8,554.6L498.3,560.5Z" fill="#111"/>
<line x1="453.4" y1="672" x2="469.0" y2="683.0" stroke="#111" stroke-width="1.5"/>
<path d="M474.7,687L467.1,685.6L470.8,680.4Z" fill="#111"/>
<line x1="389.7" y1="700.4" x2="402.1" y2="702.3" stroke="#111" stroke-width="1.5"/>
<path d="M409,703.3L401.6,705.4L402.6,699.1Z" fill="#111"/>
<linearGradient id="gBadge" x1="0" y1="0" x2="0" y2="1"><stop offset="0" stop-color="#9a9a9a"/><stop offset="1" stop-color="#7c7c7c"/></linearGradient>
<linearGradient id="gGold" x1="0" y1="0" x2="1" y2="0"><stop offset="0" stop-color="#c86e14"/><stop offset="0.42" stop-color="#f2c014"/><stop offset="0.6" stop-color="#e8a81c"/><stop offset="1" stop-color="#eab41c"/></linearGradient>
<rect x="188.5" y="14" width="224" height="35.5" rx="8" fill="url(#gBadge)" stroke="#dcdcdc" stroke-width="2.6"/>
<rect x="190.3" y="16.3" width="220" height="31.4" rx="6.5" fill="none" stroke="#3a3a3a" stroke-width="0.9"/>
<text transform="translate(300,45) skewX(-9) translate(-300,-45)" x="192.5" y="46" font-family="Liberation Sans" font-weight="bold" font-style="italic" font-size="37" fill="#d8901c" stroke="#d8901c" stroke-width="1.2" textLength="205" lengthAdjust="spacingAndGlyphs"><tspan font-size="42">P</tspan>OWERFLEX</text>
<text transform="translate(300,45) skewX(-9) translate(-300,-45)" x="194.5" y="44.5" font-family="Liberation Sans" font-weight="bold" font-style="italic" font-size="37" fill="#0c1626" stroke="#0c1626" stroke-width="2.4" textLength="205" lengthAdjust="spacingAndGlyphs"><tspan font-size="42">P</tspan>OWERFLEX</text>
<circle cx="405" cy="23" r="1.6" fill="none" stroke="#222" stroke-width="0.5"/>
<text x="246" y="66" font-family="Liberation Sans" font-weight="bold" font-size="24" fill="url(#gGold)" stroke="#3a2a10" stroke-width="0.45" textLength="158" lengthAdjust="spacingAndGlyphs">Black Series</text>
<path d="M240,57H252M393,57H415M283,56V70M356,55V66" stroke="#111" stroke-width="0.7"/>
<text x="247.5" y="84.2" font-family="Liberation Sans" font-size="13.4" fill="#f4d040" stroke="#f4d040" stroke-width="0.35" textLength="157.5" lengthAdjust="spacingAndGlyphs">Designed for the Track – Ready to Race</text>
<text x="205.3" y="105.4" font-family="Liberation Serif" font-weight="bold" font-style="italic" font-size="18.3" fill="#000" stroke="#000" stroke-width="1.2" textLength="189.7" lengthAdjust="spacingAndGlyphs">CR-V Mk1 (1995 - 2002)</text>
</svg>
</body></html>
